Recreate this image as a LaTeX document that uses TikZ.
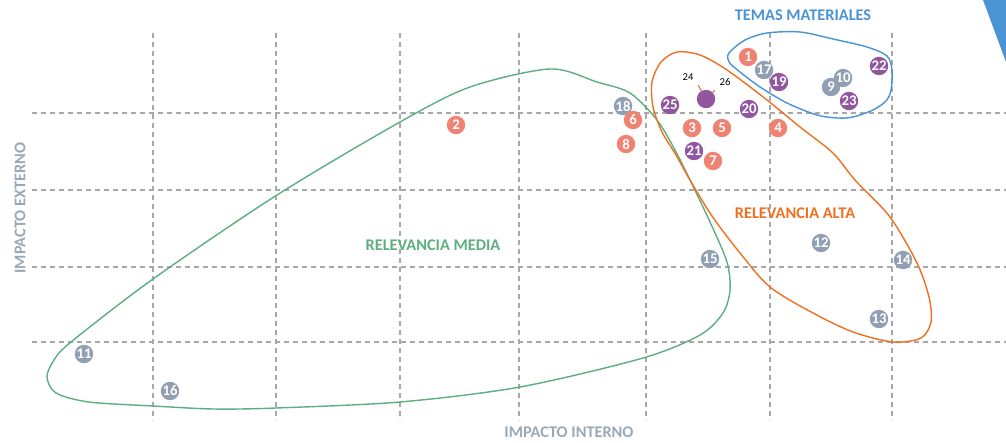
\documentclass[tikz,border=0pt]{standalone}
\usepackage{fontspec}
\setmainfont{Carlito}[BoldFont={Carlito Bold}]
\usepackage{tikz}

\definecolor{salmon}{HTML}{EF8273}
\definecolor{slate}{HTML}{909FB2}
\definecolor{plum}{HTML}{9056A0}
\definecolor{grn}{HTML}{5DAE81}
\definecolor{orng}{HTML}{F07022}
\definecolor{blu}{HTML}{4A94D6}
\definecolor{axisgray}{HTML}{9AA8B8}
\definecolor{gridgray}{HTML}{A8A8A8}

\tikzset{
  gridline/.style={gridgray, line width=0.9pt, dash pattern=on 3.6pt off 2.8pt},
  dot/.style={circle, inner sep=0pt, minimum size=0.46cm, text=white,
    font=\fontsize{10.5}{10.5}\selectfont\bfseries},
  sal/.style={dot, fill=salmon},
  gry/.style={dot, fill=slate},
  pur/.style={dot, fill=plum},
  zone/.style={line width=1pt},
  ztitle/.style={font=\fontsize{11.6}{13}\selectfont\bfseries},
  axlabel/.style={axisgray, font=\fontsize{11.6}{13}\selectfont\bfseries}
}

\begin{document}
\begin{tikzpicture}[x=0.025cm, y=-0.025cm]
\useasboundingbox (0,0) rectangle (1006,442);

% grid
\foreach \x in {153,276,400,519,646,770,892}
  \draw[gridline] (\x,33) -- (\x,420);
\foreach \y in {113,190,267,342}
  \draw[gridline] (32,\y) -- (1006,\y);

% corner mark
\fill[blu] (983,0) -- (1006,0) -- (1006,62) -- cycle;

% zones
\draw[zone, grn] plot[smooth cycle] coordinates {
  (550,69) (597,82) (630,93) (657,120) (675,150) (690,180) (710,222)
  (727,262) (730,290) (723,313) (700,335) (643,358) (520,387) (400,402)
  (276,408) (214,409) (153,406) (89,402) (56,393) (47,377) (54,360)
  (71,342) (153,279) (277,195) (400,122) (470,87)};
\draw[zone, orng] plot[smooth cycle] coordinates {
  (677,52) (700,55) (727,70) (767,100) (800,127) (833,153) (855,180)
  (890,217) (917,263) (929,297) (931,322) (921,338) (893,342) (853,332)
  (813,313) (770,287) (740,253) (712,216) (690,180) (676,155) (662,132)
  (653,107) (652,82) (661,62)};
\draw[zone, blu] plot[smooth cycle] coordinates {
  (729,53) (745,40) (767,33) (800,32) (833,39) (867,47) (887,56)
  (892,70) (891,90) (886,101) (873,110) (853,117) (838,118) (817,115)
  (787,103) (760,87) (740,72) (729,62)};

% titles
\node[ztitle, blu] (tmat) at (803,15) {TEMAS MATERIALES};
\node[ztitle, orng] (ralta) at (795,213) {RELEVANCIA ALTA};
\node[ztitle, grn] (rmedia) at (433,245) {RELEVANCIA MEDIA};
\node[axlabel] (xlab) at (569,432) {IMPACTO INTERNO};
\node[axlabel, rotate=90] (ylab) at (20,208) {IMPACTO EXTERNO};

% topics
\node[sal] (n1) at (748,57) {1};
\node[gry] (n17) at (764,70) {17};
\node[pur] (n19) at (779,82) {19};
\node[gry] (n10) at (843,78) {10};
\node[gry] (n9) at (831,87) {9};
\node[pur] (n23) at (849,101) {23};
\node[pur] (n22) at (879,66) {22};
\node[gry] (n18) at (623,106) {18};
\node[sal] (n6) at (633,120) {6};
\node[sal] (n8) at (626,144) {8};
\node[sal] (n2) at (456,125) {2};
\node[pur] (n25) at (670,105) {25};
\node[pur] (n20) at (749,109) {20};
\node[sal] (n3) at (692,128) {3};
\node[sal] (n5) at (722,128) {5};
\node[sal] (n4) at (778,128) {4};
\node[pur] (n21) at (694,151) {21};
\node[sal] (n7) at (713,161) {7};
\node[gry] (n12) at (821,243) {12};
\node[gry] (n15) at (710,259) {15};
\node[gry] (n14) at (903,260) {14};
\node[gry] (n13) at (879,319) {13};
\node[gry] (n11) at (84,354) {11};
\node[gry] (n16) at (170,391) {16};

% shared point 24 / 26
\node[pur] (n24) at (706,99) {};
\node[font=\fontsize{7.5}{7.5}\selectfont] (l24) at (688,77) {24};
\node[font=\fontsize{7.5}{7.5}\selectfont] (l26) at (725,82) {26};
\draw[orng, line width=0.8pt] (l24.south east) -- (n24);
\draw[orng, line width=0.8pt] (l26.south west) -- (n24);
\end{tikzpicture}
\end{document}
